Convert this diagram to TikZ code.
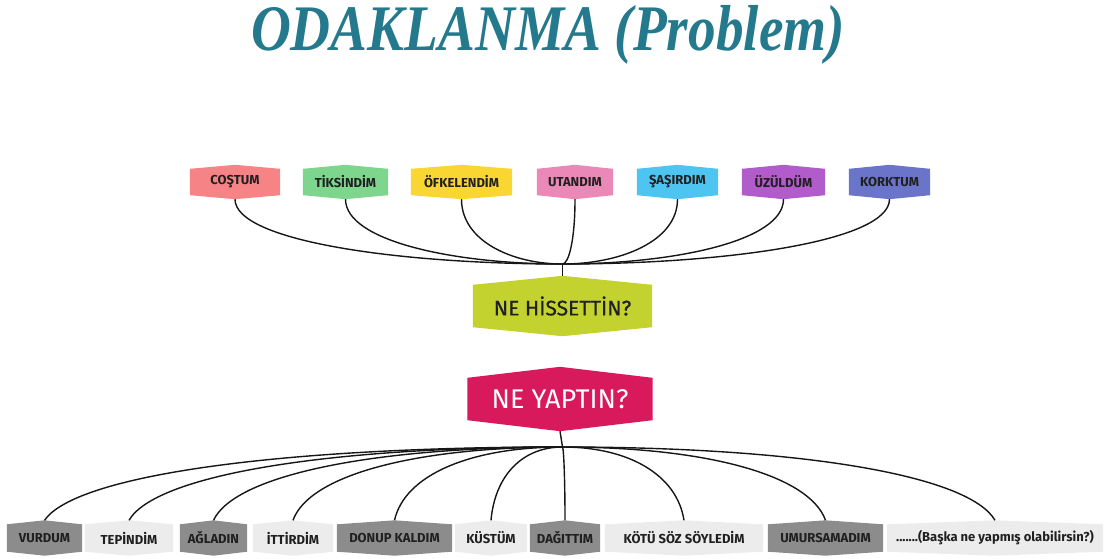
\documentclass[tikz,border=0pt]{standalone}
\usepackage{fontspec}
\setmainfont{Liberation Serif}
\newfontfamily\lblfont{Fira Sans}
\usetikzlibrary{calc}
\pgfdeclarelayer{bg}
\pgfsetlayers{bg,main}

\definecolor{titleteal}{RGB}{36,121,140}
\definecolor{cRed}{RGB}{246,132,134}
\definecolor{cGreen}{RGB}{126,214,142}
\definecolor{cYellow}{RGB}{250,214,50}
\definecolor{cPink}{RGB}{234,136,184}
\definecolor{cCyan}{RGB}{78,196,240}
\definecolor{cPurple}{RGB}{178,92,204}
\definecolor{cBlue}{RGB}{106,116,200}
\definecolor{cLime}{RGB}{196,210,48}
\definecolor{cCrimson}{RGB}{216,26,92}
\definecolor{cDark}{RGB}{140,140,140}
\definecolor{cLight}{RGB}{236,236,236}
\definecolor{labeltext}{RGB}{32,32,32}
\definecolor{wire}{RGB}{22,22,22}

\begin{document}
\begin{tikzpicture}[x=1pt,y=-1pt,
  lbl/.style={inner sep=0pt, text=labeltext,
    font=\lblfont\bfseries\fontsize{13}{13}\selectfont},
  toplbl/.style={lbl, minimum height=26pt},
  botlbl/.style={lbl, minimum height=27pt},
  question/.style={inner sep=0pt, minimum height=42pt},
  conn/.style={draw=wire, line width=1.4pt}]
\useasboundingbox (0,0) rectangle (1105,558);

% title
\node[anchor=base, inner sep=0pt, text=titleteal,
  font=\fontsize{65}{65}\selectfont\bfseries\itshape]
  (title) at (548,50) {\scalebox{0.85}[1]{ODAKLANMA (Problem)}};

% feelings
\node[toplbl, minimum width=90pt]  (c1) at (235,182)   {COŞTUM};
\node[toplbl, minimum width=85pt]  (c2) at (345.5,182) {TİKSİNDİM};
\node[toplbl, minimum width=101pt] (c3) at (461.5,182) {ÖFKELENDİM};
\node[toplbl, minimum width=76pt]  (c4) at (575,182)   {UTANDIM};
\node[toplbl, minimum width=81pt]  (c5) at (677.5,182) {ŞAŞIRDIM};
\node[toplbl, minimum width=83pt]  (c6) at (783.5,182) {ÜZÜLDÜM};
\node[toplbl, minimum width=81pt]  (c7) at (889.5,182) {KORKTUM};

% the two questions
\node[question, minimum width=179pt, text=labeltext,
  font=\lblfont\fontsize{21}{21}\selectfont\addfontfeatures{FakeBold=0.5}]
  (q1) at (562.5,306) {NE HİSSETTİN?};
\node[question, minimum width=185pt, text=white,
  font=\lblfont\fontsize{27}{27}\selectfont]
  (q2) at (560,399) {NE YAPTIN?};

% actions
\node[botlbl, minimum width=75pt]  (a1)  at (44.5,538)  {VURDUM};
\node[botlbl, minimum width=88pt]  (a2)  at (129,538)   {TEPİNDİM};
\node[botlbl, minimum width=67pt]  (a3)  at (213.5,538) {AĞLADIN};
\node[botlbl, minimum width=80pt]  (a4)  at (293,538)   {İTTİRDİM};
\node[botlbl, minimum width=115pt] (a5)  at (394.5,538) {DONUP KALDIM};
\node[botlbl, minimum width=72pt]  (a6)  at (491,538)   {KÜSTÜM};
\node[botlbl, minimum width=70pt]  (a7)  at (565,538)   {DAĞITTIM};
\node[botlbl, minimum width=158pt] (a8)  at (684,538)   {KÖTÜ SÖZ SÖYLEDİM};
\node[botlbl, minimum width=115pt] (a9)  at (825.5,538) {UMURSAMADIM};
\node[botlbl, minimum width=216pt] (a10) at (995,538)   {.......(Başka ne yapmış olabilirsin?)};

\coordinate (hubTop) at (562.5,264);
\coordinate (hubBot) at (562.5,447);

\begin{pgfonlayer}{bg}
  % hexagonal plates behind the labels
  \foreach \n/\c/\p in {c1/cRed/4,c2/cGreen/4,c3/cYellow/4,c4/cPink/4,
      c5/cCyan/4,c6/cPurple/4,c7/cBlue/4,q1/cLime/9,q2/cCrimson/11,
      a1/cDark/4,a2/cLight/4,a3/cDark/4,a4/cLight/4,a5/cDark/4,
      a6/cLight/4,a7/cDark/4,a8/cLight/4,a9/cDark/4,a10/cLight/4}
    \fill[\c] (\n.north west) -- ([yshift=\p pt]\n.north) -- (\n.north east)
      -- (\n.south east) -- ([yshift=-\p pt]\n.south) -- (\n.south west) -- cycle;

  % feelings gather into the first question
  \foreach \n/\dx in {c1/-163,c2/-108,c3/-50,c4/6,c5/58,c6/111,c7/164}
    \draw[conn] ([yshift=-4pt]\n.south) .. controls +(0,42) and +(\dx,0) .. (hubTop);
  \draw[conn] (hubTop) -- ([yshift=9pt]q1.north);

  % the second question spreads to the actions
  \draw[conn] ([yshift=-11pt]q2.south) -- (hubBot);
  \foreach \n/\dx/\sx in {a1/-285/31,a2/-237/26,a3/-191/21,a4/-148/16,a5/-93/10,
      a6/-40/4,a7/1/0,a8/67/-7,a9/145/-16,a10/239/-26}
    \draw[conn] (hubBot) .. controls +(\dx,0) and +(\sx,-45) .. ([yshift=4pt]\n.north);
\end{pgfonlayer}
\end{tikzpicture}
\end{document}
